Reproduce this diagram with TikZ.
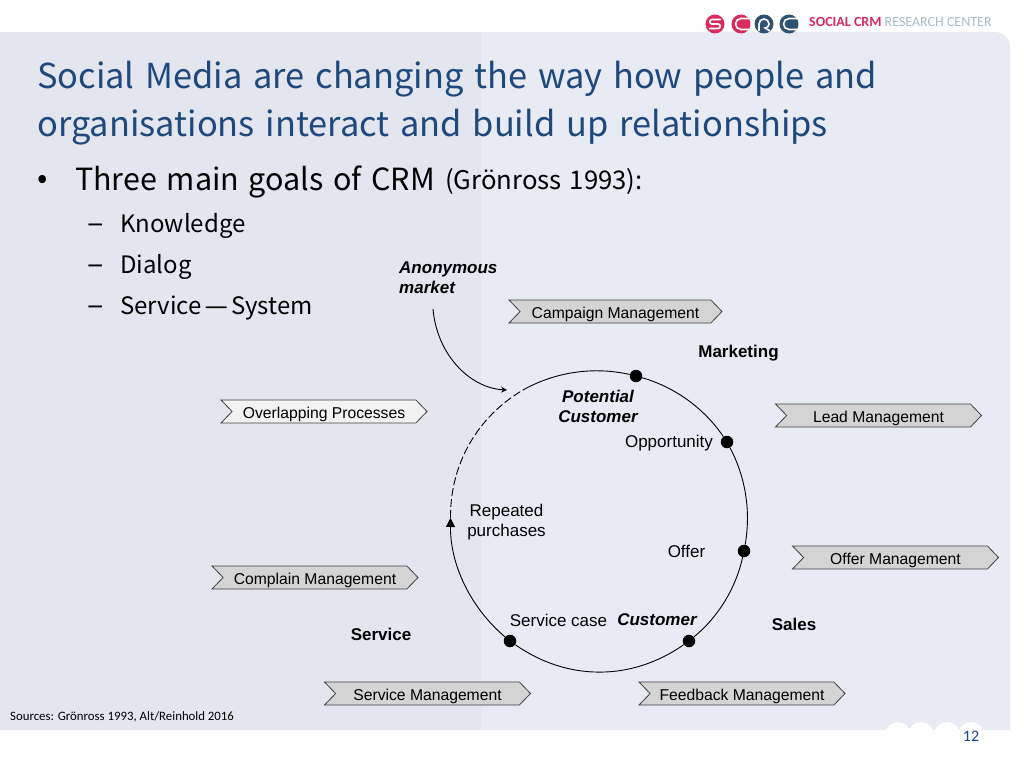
\documentclass[tikz,border=0pt]{standalone}
\usepackage{fontspec}
\usepackage{graphicx}
\setmainfont{Liberation Sans}
\newfontfamily\titlefont[WordSpace=1.3]{Noto Sans CJK JP}
\newfontfamily\bodyfont[WordSpace=1.4]{Noto Sans CJK JP}
\newfontfamily\notefont{Carlito}
\usetikzlibrary{shapes.symbols,arrows.meta}
\definecolor{paneldark}{HTML}{E3E6EE}
\definecolor{panellight}{HTML}{E8EBF3}
\definecolor{titleblue}{HTML}{1F497D}
\definecolor{logored}{HTML}{D92A5C}
\definecolor{logoblue}{HTML}{2F5272}
\definecolor{logogrey}{HTML}{A9BCCB}
\tikzset{
  process/.style={signal,signal to=east,signal from=west,signal pointer angle=92,draw=black!75,fill=black!17,line width=0.8pt,
    minimum width=206pt,minimum height=23pt,inner sep=0pt,text height=15pt,text depth=1.4pt,font=\fontsize{15.7}{18}\selectfont},
  stepdot/.style={circle,fill=black,inner sep=0pt,minimum size=12.5pt},
  cycleline/.style={line width=0.9pt},
  plain/.style={font=\fontsize{17}{20.5}\selectfont,align=center},
  phase/.style={font=\fontsize{17}{20.5}\selectfont\bfseries},
  state/.style={font=\fontsize{17}{20.5}\selectfont\bfseries\itshape,align=center},
  headline/.style={font=\titlefont\fontsize{34.4}{40}\selectfont,text=titleblue,anchor=west,inner sep=0pt},
  goal/.style={font=\bodyfont\fontsize{30.5}{36}\selectfont,anchor=west,inner sep=0pt},
  subgoal/.style={font=\bodyfont\fontsize{24}{30}\selectfont,anchor=west,inner sep=0pt},
  logoring/.style={circle,inner sep=0pt,minimum size=19pt},
  logostroke/.style={white,line width=1.6pt}
}
\begin{document}
\begin{tikzpicture}[x=1pt,y=-1pt]
  \useasboundingbox (0,0) rectangle (1024,768);
  % panel
  \fill[panellight] (0,32) -- (995,32) arc[start angle=270,end angle=360,radius=15] -- (1010,730) -- (0,730) -- cycle;
  \fill[paneldark] (0,32) rectangle (481,730);
  \foreach \x in {898,921,947,971} \fill[white] (\x,735) circle[radius=13];

  % logo
  \node (ring1) [logoring,fill=logored] at (715,24) {};
  \node (ring2) [logoring,fill=logored] at (741,24) {};
  \node (ring3) [logoring,fill=logoblue] at (764,24) {};
  \node (ring4) [logoring,fill=logoblue] at (789,24) {};
  \draw[logostroke] (ring1) ++(6,-4.5) -- ++(-9,0) arc[start angle=270,end angle=90,radius=2.25] -- ++(6,0) arc[start angle=270,end angle=450,radius=2.25] -- ++(-9,0);
  \draw[logostroke] (ring2) ++(8,-5.5) -- ++(-8,0) arc[start angle=270,end angle=90,radius=5.5] -- ++(8,0);
  \draw[logostroke] (ring3) ++(-5,7) -- ++(0,-7) arc[start angle=180,end angle=360,radius=5] arc[start angle=0,end angle=90,radius=4] -- ++(5,3);
  \draw[logostroke] (ring4) ++(8,-5.5) -- ++(-8,0) arc[start angle=270,end angle=90,radius=5.5] -- ++(8,0);
  \node (logotext) [anchor=west,inner sep=0pt,font=\notefont\fontsize{14}{16}\selectfont] at (809,22) {\textcolor{logored}{\textbf{SOCIAL CRM}} \textcolor{logogrey}{RESEARCH CENTER}};

  % text
  \node (title1) [headline] at (37,79) {Social Media are changing the way how people and};
  \node (title2) [headline] at (37,127) {organisations interact and build up relationships};
  \node (bullet) [goal] at (37,182) {•};
  \node (goal) [goal] at (75,182) {Three main goals of CRM};
  \node (source) [anchor=west,inner sep=0pt,font=\bodyfont\fontsize{25.7}{30}\selectfont] at (445,182) {(Grönross 1993):};
  \node (dash1) [goal] at (87,229) {–};
  \node (know) [subgoal] at (120,226) {Knowledge};
  \node (dash2) [goal] at (87,270) {–};
  \node (dialog) [subgoal] at (120,267) {Dialog};
  \node (dash3) [goal] at (87,311) {–};
  \node (system) [subgoal] at (120,308) {Service\hspace{0.5pt}\scalebox{3.4}[1]{-}\hspace{0.5pt}System};
  \node (sources) [anchor=west,inner sep=0pt,font=\notefont\fontsize{12.8}{15}\selectfont] at (10,716.5) {Sources: Grönross 1993, Alt/Reinhold 2016};
  \node (page) [anchor=center,inner sep=0pt,text=titleblue,font=\notefont\fontsize{16}{18}\selectfont] at (971,736) {12};

  % processes
  \node (campaign) [process,minimum width=213pt] at (615.5,311.5) {Campaign Management};
  \node (overlap) [process,fill=black!5] at (324,411.5) {Overlapping Processes};
  \node (lead) [process] at (878.5,415.5) {Lead Management};
  \node (offermgmt) [process] at (895.5,557.5) {Offer Management};
  \node (complain) [process] at (315,577.5) {Complain Management};
  \node (servicemgmt) [process] at (427.5,693.5) {Service Management};
  \node (feedback) [process] at (742,693.5) {Feedback Management};

  % cycle
  \node (d1) [stepdot] at (636,376) {};
  \node (d2) [stepdot] at (727,442) {};
  \node (d3) [stepdot] at (744,551) {};
  \node (d4) [stepdot] at (689,641) {};
  \node (d5) [stepdot] at (510,641) {};
  \coordinate (cycleup) at (450.5,518);
  \coordinate (cycletop) at (523,390);
  \coordinate (anonfrom) at (433,309);
  \coordinate (anonto) at (507,390);

  \path[cycleline] (d1) edge [bend left=20,looseness=.87] (d2);
  \path[cycleline] (d2) edge [bend left=19,looseness=.87] (d3);
  \path[cycleline] (d3) edge [bend left=19,looseness=.87] (d4);
  \path[cycleline] (d4) edge [bend left=35,looseness=.97] (d5);
  \path[cycleline,-{Triangle[length=9pt,width=9pt]}] (d5) edge [bend left=25,looseness=.9] (cycleup);
  \path[cycleline,dash pattern=on 8pt off 3pt] (cycleup) edge [bend left=30,looseness=.93] (cycletop);
  \path[cycleline] (cycletop) edge [bend left=21,looseness=.88] (d1);
  \draw[cycleline,-{Stealth[length=6pt,width=6pt]}] (anonfrom) .. controls (437,355) and (470,388) .. (anonto);

  % labels
  \node (anon) [state,align=left,anchor=north west,inner sep=0pt] at (399,261.5) {Anonymous\\market};
  \node (potential) [state] at (598,406.5) {Potential\\Customer};
  \node (customer) [state] at (657,619.5) {Customer};
  \node (marketing) [phase] at (738.5,353) {Marketing};
  \node (sales) [phase] at (794,624) {Sales};
  \node (service) [phase] at (381,634.5) {Service};
  \node (opportunity) [plain] at (669,443) {Opportunity};
  \node (repeated) [plain] at (506.5,522) {Repeated\\purchases};
  \node (offer) [plain] at (686.5,551) {Offer};
  \node (servicecase) [plain] at (558.5,620) {Service case};
\end{tikzpicture}
\end{document}
